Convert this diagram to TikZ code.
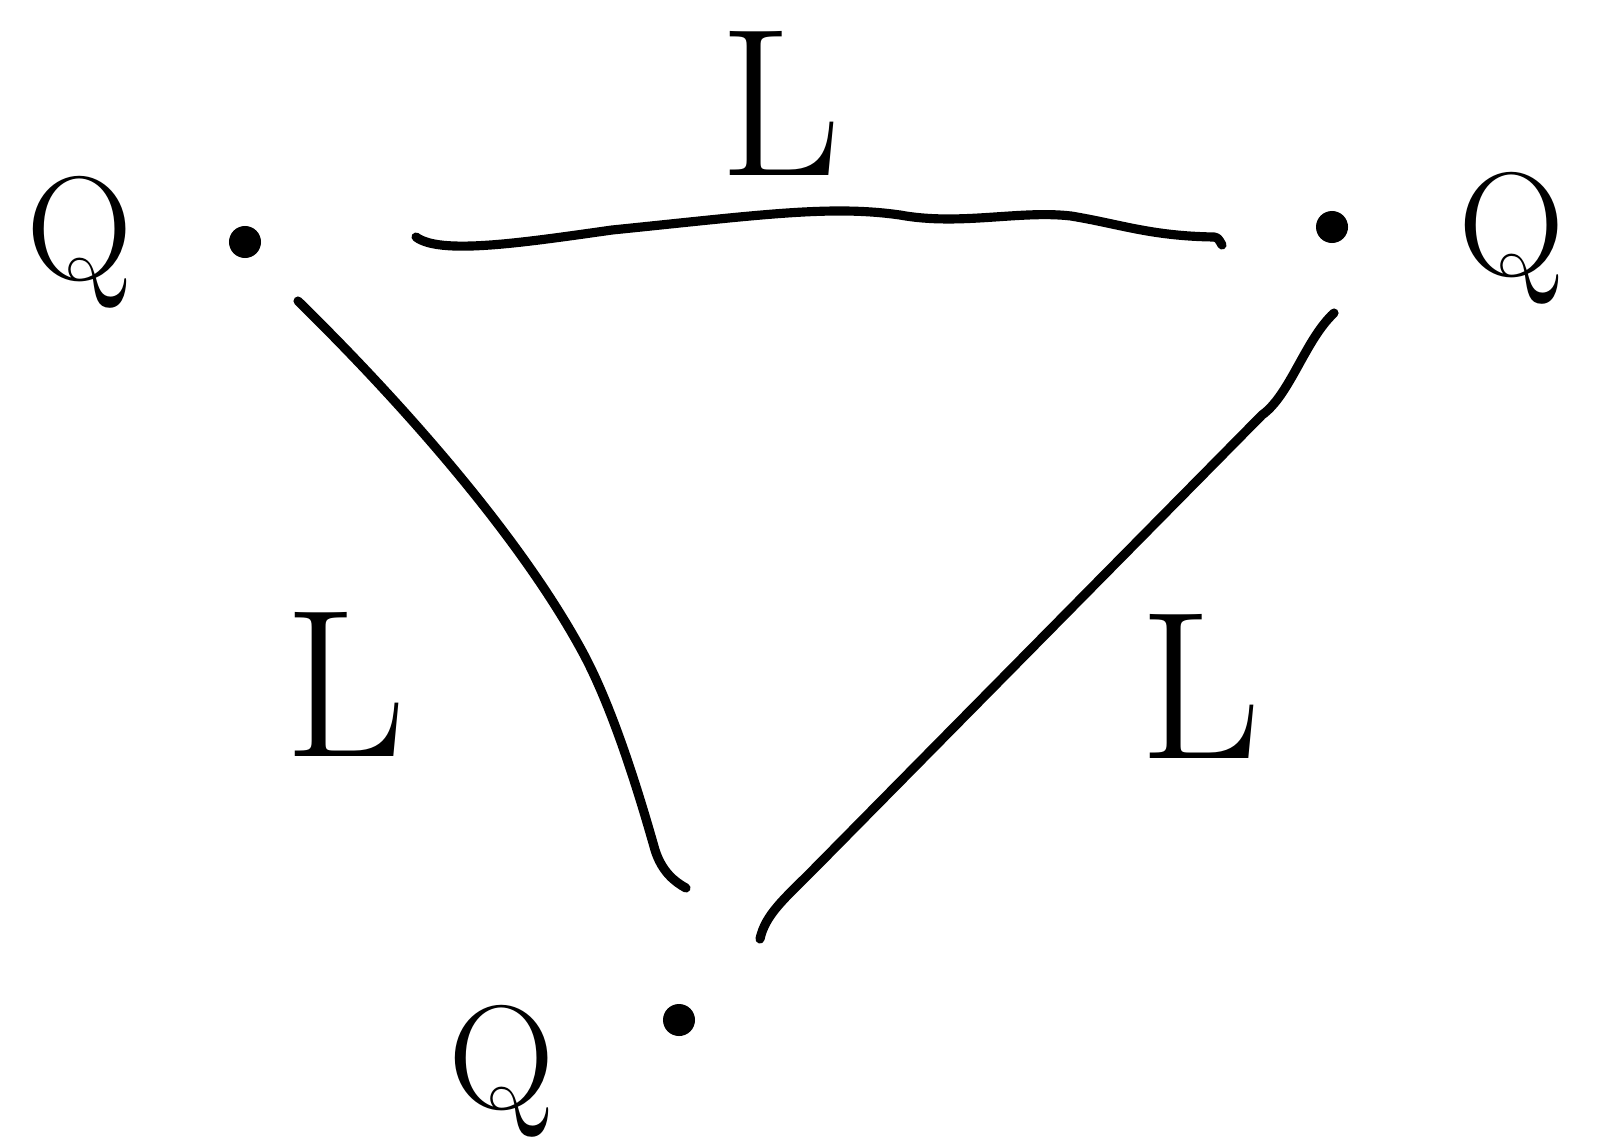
\documentclass[tikz,border=0pt]{standalone}
\usepackage{xcolor}
\usepackage{tikz}
\begin{document}
\begin{tikzpicture}[x=0.01cm,y=-0.01cm,
  pt/.style={circle,fill=black,inner sep=0pt,minimum size=0.32cm},
  chg/.style={font=\fontsize{42}{50}\selectfont},
  len/.style={font=\fontsize{60}{72}\selectfont},
  edge/.style={line width=2.6pt,line cap=round,line join=round}]
  \useasboundingbox (0,0) rectangle (1600,1139);
  % charges
  \node[pt] (a) at (245,242) {};
  \node[pt] (b) at (1332,227) {};
  \node[pt] (c) at (679,1020) {};
  \node[chg] (qa) at (80,242) {Q};
  \node[chg] (qb) at (1512,238) {Q};
  \node[chg] (qc) at (502,1071) {Q};
  % ends of the sides
  \coordinate (ab0) at (416,237);
  \coordinate (ab1) at (1222,245);
  \coordinate (ac0) at (298,301);
  \coordinate (ac1) at (686,888);
  \coordinate (bc0) at (1334,313);
  \coordinate (bc1) at (760,939);
  % sides
  \draw[edge] (ab0) .. controls (440,255) and (520,243) .. (612,230)
    .. controls (760,215) and (830,205) .. (900,215)
    .. controls (960,226) and (1020,210) .. (1071,216)
    .. controls (1120,224) and (1150,236) .. (1214,237)
    .. controls (1218,238) .. (ab1);
  \draw[edge] (ac0) .. controls (405,406) and (520,537) .. (582,651)
    .. controls (612,706) and (638,790) .. (655,850)
    .. controls (662,872) and (675,882) .. (ac1);
  \draw[edge] (bc0) .. controls (1305,340) and (1290,395) .. (1262,415)
    -- (810,873) .. controls (785,898) and (765,915) .. (bc1);
  \node[len] (la) at (780,103) {L};
  \node[len] (lb) at (345,684) {L};
  \node[len] (lc) at (1200,686) {L};
\end{tikzpicture}
\end{document}
